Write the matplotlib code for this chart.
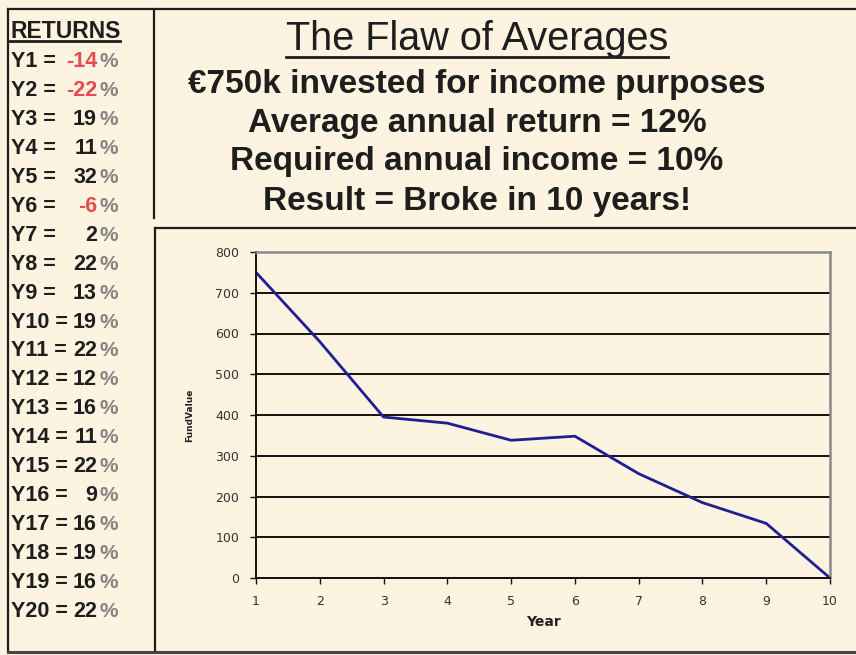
import matplotlib
matplotlib.use("Agg")
import matplotlib.pyplot as plt
from matplotlib.lines import Line2D

# chart data
years = [1, 2, 3, 4, 5, 6, 7, 8, 9, 10]
fund_value = [750, 580, 395, 380, 338, 348, 256, 185, 134, 0]
returns = [-14, -22, 19, 11, 32, -6, 2, 22, 13, 19,
           22, 12, 16, 11, 22, 9, 16, 19, 16, 22]
title_lines = ["€750k invested for income purposes",
               "Average annual return = 12%",
               "Required annual income = 10%",
               "Result = Broke in 10 years!"]
y_ticks = [0, 100, 200, 300, 400, 500, 600, 700, 800]

W, H = 856, 655
CREAM = "#fcf3e0"
INK = "#1e1e1e"

plt.rcParams["font.family"] = ["Liberation Sans", "DejaVu Sans"]

fig = plt.figure(figsize=(W / 100, H / 100), dpi=100)
fig.patch.set_facecolor(CREAM)


def fx(x):
    return x / W


def fy(y):
    return 1 - y / H


def hline(x0, x1, y, color=INK, lw=1.6):
    fig.add_artist(Line2D([fx(x0), fx(x1)], [fy(y), fy(y)], color=color,
                          lw=lw, transform=fig.transFigure))


def vline(x, y0, y1, color=INK, lw=1.6):
    fig.add_artist(Line2D([fx(x), fx(x)], [fy(y0), fy(y1)], color=color,
                          lw=lw, transform=fig.transFigure))


# frame lines
hline(8, W, 9)
vline(8, 9, 652)
vline(154, 9, 218)
hline(155, W, 228)
vline(155, 228, 652)
hline(8, W, 652, color="#444444", lw=2.2)

# left column with the yearly returns
t_ret = fig.text(fx(10), fy(38), "RETURNS", fontsize=16.5, fontweight="bold",
                 color=INK, va="baseline")
for i, r in enumerate(returns):
    yb = fy(67 + 28.95 * i)
    fig.text(fx(11), yb, "Y%d =" % (i + 1), fontsize=15.5, fontweight="bold",
             color=INK, va="baseline")
    col = "#e84a4f" if r < 0 else INK
    fig.text(fx(97), yb, str(r), fontsize=15.5, fontweight="bold", color=col,
             va="baseline", ha="right")
    fig.text(fx(100), yb, "%", fontsize=15, fontweight="bold",
             color="#858585", va="baseline")

# heading block
cx = fx(477)
t_title = fig.text(cx, fy(50), "The Flaw of Averages", fontsize=28.5,
                   color=INK, ha="center", va="baseline")
for k, s in enumerate(title_lines):
    fig.text(cx, fy([93, 132, 170, 210][k]), s, fontsize=24,
             fontweight="bold", color=INK, ha="center", va="baseline")

# the chart
ax = fig.add_axes([fx(256), fy(578), (830 - 256) / W, (578 - 252) / H])
ax.set_facecolor(CREAM)
ax.plot(years, fund_value, color="#1f1f94", lw=2)
ax.set_xlim(1, 10)
ax.set_ylim(0, 800)
ax.set_xticks(years)
ax.set_yticks(y_ticks)
ax.yaxis.grid(True, color="#111111", lw=1.4)
ax.set_axisbelow(True)
for side in ["left", "bottom"]:
    ax.spines[side].set_color("#111111")
    ax.spines[side].set_linewidth(1.4)
for side in ["top", "right"]:
    ax.spines[side].set_color("#8a8a8a")
    ax.spines[side].set_linewidth(1.8)
ax.tick_params(direction="out", length=4, width=1, color="#111111",
               labelsize=9, labelcolor="#333333", pad=8)
for lab in ax.get_xticklabels() + ax.get_yticklabels():
    lab.set_family("DejaVu Sans")
ax.set_xlabel("Year", fontsize=10, fontweight="bold", family="DejaVu Sans",
              labelpad=5, color="#222222")
ax.set_ylabel("FundValue", fontsize=6.5, fontweight="bold",
              family="DejaVu Sans", labelpad=15, color="#222222")

# underlines below the two headings
fig.canvas.draw()
r = fig.canvas.get_renderer()
for t, y in [(t_ret, 41), (t_title, 57)]:
    bb = t.get_window_extent(renderer=r)
    hline(bb.x0, bb.x1, y, lw=2)

fig.savefig("out.png", dpi=100, facecolor=CREAM)
